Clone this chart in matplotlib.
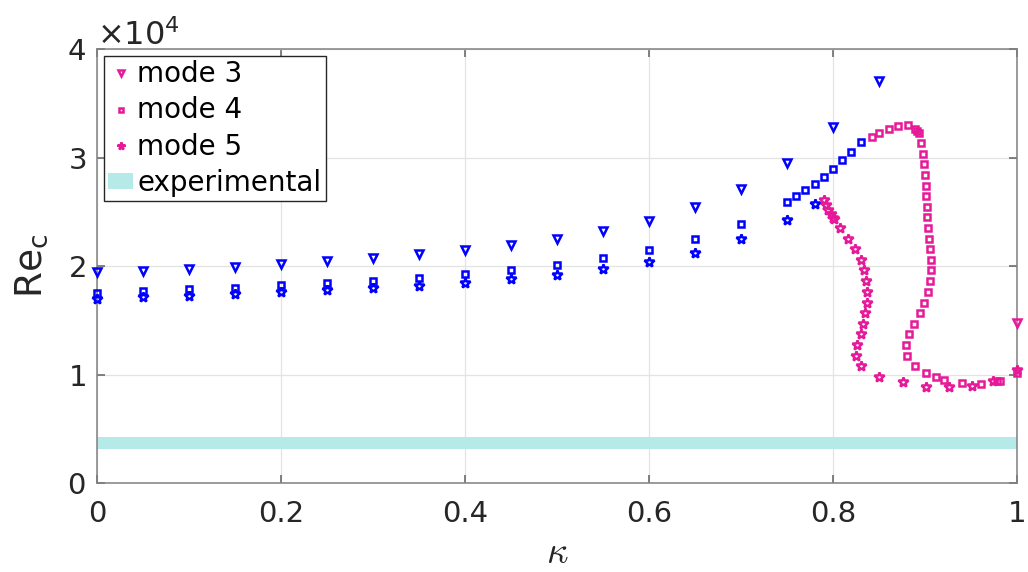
import numpy as np
import matplotlib
matplotlib.use("Agg")
import matplotlib.pyplot as plt
from matplotlib.patches import Patch
from matplotlib.lines import Line2D
from matplotlib.ticker import ScalarFormatter

# values, Re in units of 1e4

# blue branch (small kappa)
kappa_base = [0.0, 0.05, 0.1, 0.15, 0.2, 0.25, 0.3, 0.35, 0.4, 0.45, 0.5, 0.55, 0.6, 0.65, 0.7]
kappa3_blue = kappa_base + [0.75, 0.8, 0.85]
re3_blue = [1.947, 1.956, 1.972, 1.988, 2.015, 2.044, 2.074, 2.108, 2.147, 2.191,
            2.252, 2.325, 2.418, 2.541, 2.712, 2.952, 3.284, 3.708]

kappa4_blue = kappa_base + [0.75, 0.76, 0.77, 0.78, 0.79, 0.80, 0.81, 0.82, 0.83]
re4_blue = [1.754, 1.770, 1.785, 1.800, 1.825, 1.840, 1.862, 1.887, 1.923, 1.966,
            2.009, 2.074, 2.147, 2.249, 2.387, 2.593, 2.645, 2.700, 2.759, 2.823,
            2.891, 2.974, 3.051, 3.143]

kappa5_blue = kappa_base + [0.75, 0.78]
re5_blue = [1.699, 1.712, 1.726, 1.742, 1.758, 1.776, 1.794, 1.818, 1.846, 1.883,
            1.920, 1.970, 2.034, 2.123, 2.246, 2.424, 2.569]

# magenta branch
kappa3_mag = [1.0]
re3_mag = [1.472]

kappa4_mag = [0.842, 0.850, 0.861, 0.871, 0.881, 0.889, 0.891, 0.893, 0.896, 0.898,
              0.899, 0.900, 0.901, 0.901, 0.902, 0.9025, 0.9036, 0.9047, 0.9054, 0.9062,
              0.9062, 0.9054, 0.9036, 0.8993, 0.8946, 0.8877, 0.8826, 0.8793, 0.8808, 0.8891,
              0.9011, 0.912, 0.9207, 0.9406, 0.9609, 0.978, 0.981, 1.0]
re4_mag = [3.192, 3.223, 3.263, 3.290, 3.300, 3.262, 3.244, 3.223, 3.131, 3.035,
           2.937, 2.839, 2.737, 2.645, 2.547, 2.449, 2.347, 2.249, 2.154, 2.055,
           1.960, 1.859, 1.760, 1.662, 1.564, 1.465, 1.370, 1.272, 1.171, 1.075,
           1.017, 0.974, 0.949, 0.922, 0.915, 0.940, 0.943, 1.012]

kappa5_mag = [0.790, 0.792, 0.795, 0.7975, 0.800, 0.801, 0.8076, 0.8167, 0.824, 0.830,
              0.834, 0.836, 0.837, 0.8366, 0.835, 0.833, 0.830, 0.826, 0.825, 0.830,
              0.850, 0.876, 0.9007, 0.9258, 0.9507, 0.9743, 1.0]
re5_mag = [2.608, 2.562, 2.516, 2.476, 2.445, 2.433, 2.347, 2.249, 2.154, 2.055,
           1.960, 1.862, 1.760, 1.662, 1.564, 1.468, 1.370, 1.272, 1.173, 1.075,
           0.977, 0.928, 0.888, 0.885, 0.897, 0.940, 1.040]

# experimental band
exp_low = 0.311
exp_high = 0.421

scale = 1e4
blue = "#0000ff"
mag = "#e61a99"
band_color = "#b5eae8"
txt = "#262626"

fig = plt.figure(figsize=(10.28, 5.72), dpi=100)
ax = fig.add_axes([0.0944, 0.1556, 0.8949, 0.7587])

""" experimental band """
ax.axhspan(exp_low * scale, exp_high * scale, color=band_color, lw=0, zorder=1)

""" data """
mk = dict(linestyle="none", markerfacecolor="none", markeredgewidth=1.8, zorder=3, clip_on=False)
ax.plot(np.array(kappa3_blue), np.array(re3_blue) * scale, marker="v", ms=6, color=blue, **mk)
ax.plot(np.array(kappa4_blue), np.array(re4_blue) * scale, marker="s", ms=4.6, color=blue, **mk)
ax.plot(np.array(kappa5_blue), np.array(re5_blue) * scale, marker="*", ms=7, color=blue, **mk)
ax.plot(np.array(kappa3_mag), np.array(re3_mag) * scale, marker="v", ms=6, color=mag, **mk)
ax.plot(np.array(kappa4_mag), np.array(re4_mag) * scale, marker="s", ms=4.6, color=mag, **mk)
ax.plot(np.array(kappa5_mag), np.array(re5_mag) * scale, marker="*", ms=7, color=mag, **mk)

""" axes """
ax.set_xlim(0, 1)
ax.set_ylim(0, 4e4)
ax.set_xticks([0, 0.2, 0.4, 0.6, 0.8, 1])
ax.set_xticklabels(["0", "0.2", "0.4", "0.6", "0.8", "1"])
ax.set_yticks([0, 1e4, 2e4, 3e4, 4e4])
fmt = ScalarFormatter(useMathText=True)
fmt.set_powerlimits((0, 0))
ax.yaxis.set_major_formatter(fmt)
ax.yaxis.get_offset_text().set_fontsize(23)
ax.yaxis.get_offset_text().set_color(txt)

ax.grid(True, color="#e3e3e3", linewidth=0.9, zorder=0)
ax.set_axisbelow(True)
for s in ax.spines.values():
    s.set_color("#808080")
    s.set_linewidth(1.1)
ax.tick_params(direction="in", length=6, width=1.1, color="#606060", labelsize=21,
               labelcolor=txt, top=True, right=True)
ax.tick_params(axis="x", pad=12)
ax.tick_params(axis="y", pad=8)

ax.set_xlabel(r"$\kappa$", fontsize=27, color=txt, labelpad=5, math_fontfamily="cm")
ax.set_ylabel(r"Re$_\mathrm{c}$", fontsize=27, color=txt, labelpad=12)

""" legend """
handles = [
    Line2D([], [], linestyle="none", marker="v", ms=4.5, mfc="none", mec=mag, mew=1.8),
    Line2D([], [], linestyle="none", marker="s", ms=3.5, mfc="none", mec=mag, mew=1.8),
    Line2D([], [], linestyle="none", marker="*", ms=5.5, mfc="none", mec=mag, mew=1.8),
    Patch(facecolor=band_color, edgecolor="none"),
]
leg = ax.legend(handles, ["mode 3", "mode 4", "mode 5", "experimental"], loc="upper left",
                fontsize=20, frameon=True, fancybox=False, borderaxespad=0.25,
                handlelength=0.9, handleheight=0.5, handletextpad=0.15,
                labelspacing=0.3, borderpad=0.15)
leg.get_frame().set_edgecolor("#262626")
leg.get_frame().set_linewidth(1.0)
leg.get_frame().set_alpha(1)

plt.savefig("out.png", dpi=100)
